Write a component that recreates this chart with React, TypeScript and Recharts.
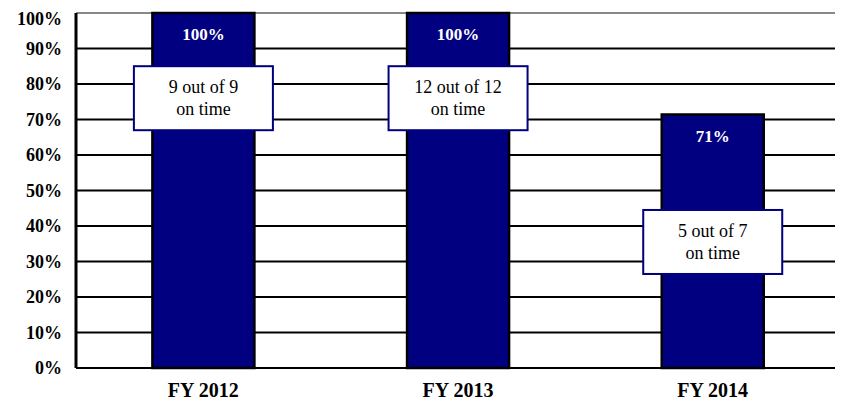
import React from 'react';
import { BarChart, Bar, XAxis, YAxis, CartesianGrid, LabelList } from 'recharts';

const years = ['FY 2012', 'FY 2013', 'FY 2014'];
const onTimePct = [100, 100, 71.4];
const onTimeCount = [9, 12, 5];
const totalCount = [9, 12, 7];
// where each note box sits, in % units on the y axis
const noteAt = [76, 76, 35.5];
const yTicks = [0, 10, 20, 30, 40, 50, 60, 70, 80, 90, 100];

const data = years.map((y, i) => ({
    year: y,
    pct: onTimePct[i],
    done: onTimeCount[i],
    total: totalCount[i],
    note: noteAt[i],
}));

const font = 'Liberation Serif';

function NoteBox(props: any) {
    const { x, y, width, height, index } = props;
    const d = data[index];
    const pxPerUnit = height / d.pct;
    const cy = y + height - d.note * pxPerUnit;
    const cx = x + width / 2;
    const w = 139;
    const h = 64;
    return (
        <g>
            <rect x={cx - w / 2} y={cy - h / 2} width={w} height={h} fill="#fff" stroke="#000080" strokeWidth={2} />
            <text x={cx} y={cy - 11} textAnchor="middle" dominantBaseline="central" fontFamily={font} fontSize={18} fill="#000">
                {`${d.done} out of ${d.total}`}
            </text>
            <text x={cx} y={cy + 11} textAnchor="middle" dominantBaseline="central" fontFamily={font} fontSize={18} fill="#000">
                on time
            </text>
        </g>
    );
}

// top gridline is the gray frame edge, the rest are black
function GridLine(props: any) {
    const top = Math.abs(props.y1 - props.y) < 1;
    return (
        <line
            x1={props.x1}
            y1={props.y1}
            x2={props.x2}
            y2={props.y2}
            stroke={top ? '#888' : '#000'}
            strokeWidth={2}
        />
    );
}

export default function App() {
    return (
        <div style={{ width: 835, height: 396 }}>
            <BarChart
                width={835}
                height={396}
                data={data}
                margin={{ top: 5, right: 3, left: 0, bottom: 0 }}
                barCategoryGap="30%"
            >
                <CartesianGrid vertical={false} horizontal={GridLine} />
                <XAxis
                    dataKey="year"
                    height={36}
                    tickLine={false}
                    tickSize={0}
                    tickMargin={15}
                    axisLine={{ stroke: '#000', strokeWidth: 2 }}
                    tick={{ fontFamily: font, fontSize: 20, fontWeight: 'bold', fill: '#000' }}
                />
                <YAxis
                    width={68}
                    domain={[0, 100]}
                    ticks={yTicks}
                    tickFormatter={(v) => `${v}%`}
                    tickLine={false}
                    tickSize={0}
                    tickMargin={14}
                    axisLine={{ stroke: '#000', strokeWidth: 3 }}
                    tick={{ fontFamily: font, fontSize: 18, fontWeight: 'bold', fill: '#000' }}
                />
                <YAxis
                    yAxisId="r"
                    orientation="right"
                    width={0}
                    domain={[0, 100]}
                    tick={false}
                    tickLine={false}
                    axisLine={{ stroke: '#888', strokeWidth: 2 }}
                />
                <Bar dataKey="pct" fill="#000080" stroke="#000" strokeWidth={2.5} isAnimationActive={false}>
                    <LabelList
                        dataKey="pct"
                        position="insideTop"
                        offset={15}
                        formatter={(v: any) => `${Math.round(v)}%`}
                        style={{ fontFamily: font, fontSize: 17, fontWeight: 'bold', fill: '#fff' }}
                    />
                    <LabelList dataKey="note" content={NoteBox} />
                </Bar>
            </BarChart>
        </div>
    );
}
